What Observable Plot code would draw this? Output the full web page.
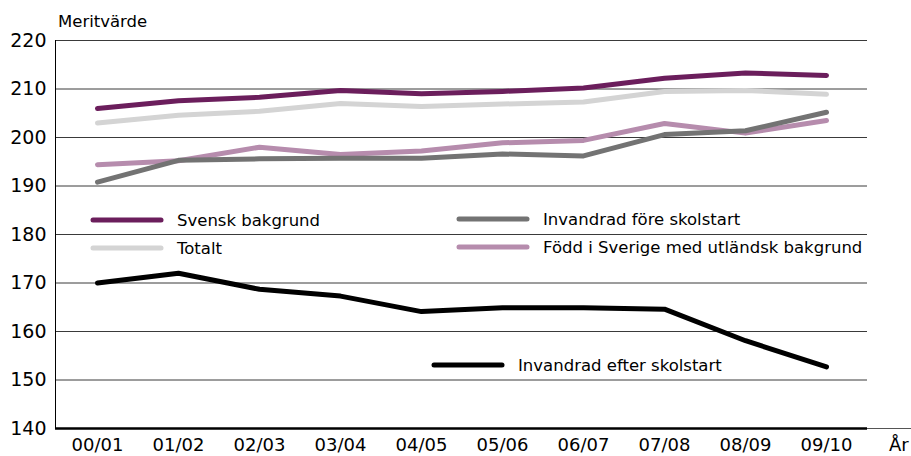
<!DOCTYPE html>
<html>
<head>
<meta charset="utf-8">
<script src="https://cdn.jsdelivr.net/npm/d3@7"></script>
<script src="https://cdn.jsdelivr.net/npm/@observablehq/plot@0.6"></script>
<style>
  body { margin: 0; background: #fff; }
  #chart { width: 911px; height: 456px; }
</style>
</head>
<body>
<div id="chart"></div>
<script>
const years = ["00/01","01/02","02/03","03/04","04/05","05/06","06/07","07/08","08/09","09/10"];
const svensk = [206.0, 207.6, 208.3, 209.7, 209.0, 209.5, 210.2, 212.2, 213.3, 212.8];
const totalt = [203.0, 204.6, 205.4, 207.0, 206.4, 206.9, 207.3, 209.5, 209.7, 208.9];
const fore   = [190.8, 195.3, 195.6, 195.7, 195.7, 196.6, 196.2, 200.6, 201.4, 205.2];
const fodd   = [194.4, 195.2, 198.0, 196.5, 197.2, 198.9, 199.4, 202.9, 200.9, 203.5];
const efter  = [170.0, 172.0, 168.7, 167.3, 164.1, 164.9, 164.9, 164.6, 158.1, 152.7];
const yTicks = [140, 150, 160, 170, 180, 190, 200, 210, 220];

const seriesNames = ["Född i Sverige med utländsk bakgrund", "Invandrad före skolstart", "Totalt", "Svensk bakgrund", "Invandrad efter skolstart"];
const seriesValues = [fodd, fore, totalt, svensk, efter];
const seriesColors = ["#b68cad", "#737373", "#d4d4d4", "#6b1e5c", "#000000"];

const rows = [];
seriesNames.forEach((name, i) => {
  years.forEach((yr, j) => rows.push({series: name, year: yr, value: seriesValues[i][j]}));
});

const FONT = "DejaVu Sans";

const chart = Plot.plot({
  width: 911,
  height: 456,
  marginLeft: 55,
  marginRight: 44,
  marginTop: 40,
  marginBottom: 28,
  style: {fontFamily: FONT, background: "#fff", color: "#000"},
  x: {type: "point", domain: years, padding: 0.5},
  y: {domain: [140, 220]},
  color: {domain: seriesNames, range: seriesColors},
  marks: [
    Plot.ruleY(yTicks.filter(d => d > 140), {stroke: "#3a3a3a", strokeWidth: 1}),
    Plot.axisY({ticks: yTicks, tickSize: 0, tickPadding: 9, fontSize: 19, label: null}),
    Plot.axisX({tickSize: 0, tickPadding: 10, fontSize: 18, label: null}),
    Plot.frame({anchor: "left", stroke: "#000"}),
    Plot.line(rows, {x: "year", y: "value", z: "series", stroke: "series", strokeWidth: 5, strokeLinecap: "round", strokeLinejoin: "round"}),
    Plot.ruleY([140], {stroke: "#000", strokeWidth: 2.5})
  ]
});

document.getElementById("chart").appendChild(chart);

// decorations: title, axis extension, "År", legend
const svg = d3.select(chart);
svg.append("text").attr("x", 58).attr("y", 27).attr("text-anchor", "start")
  .attr("font-family", FONT).attr("font-size", 16.5).attr("fill", "#000").text("Meritvärde");
svg.append("line").attr("x1", 867).attr("x2", 911).attr("y1", 428.5).attr("y2", 428.5)
  .attr("stroke", "#555").attr("stroke-width", 1);
svg.append("text").attr("x", 889).attr("y", 451).attr("text-anchor", "start")
  .attr("font-family", FONT).attr("font-size", 18).attr("fill", "#000").text("År");

const legend = [
  {name: "Svensk bakgrund", x: 93, y: 220},
  {name: "Totalt", x: 93, y: 248},
  {name: "Invandrad före skolstart", x: 459, y: 219},
  {name: "Född i Sverige med utländsk bakgrund", x: 459, y: 247},
  {name: "Invandrad efter skolstart", x: 434, y: 365}
];
legend.forEach(d => {
  const col = seriesColors[seriesNames.indexOf(d.name)];
  svg.append("line").attr("x1", d.x).attr("x2", d.x + 68).attr("y1", d.y).attr("y2", d.y)
    .attr("stroke", col).attr("stroke-width", 5).attr("stroke-linecap", "round");
  svg.append("text").attr("x", d.x + 84).attr("y", d.y).attr("dy", "0.35em").attr("text-anchor", "start")
    .attr("font-family", FONT).attr("font-size", 16.5).attr("fill", "#000").text(d.name);
});
</script>
</body>
</html>
